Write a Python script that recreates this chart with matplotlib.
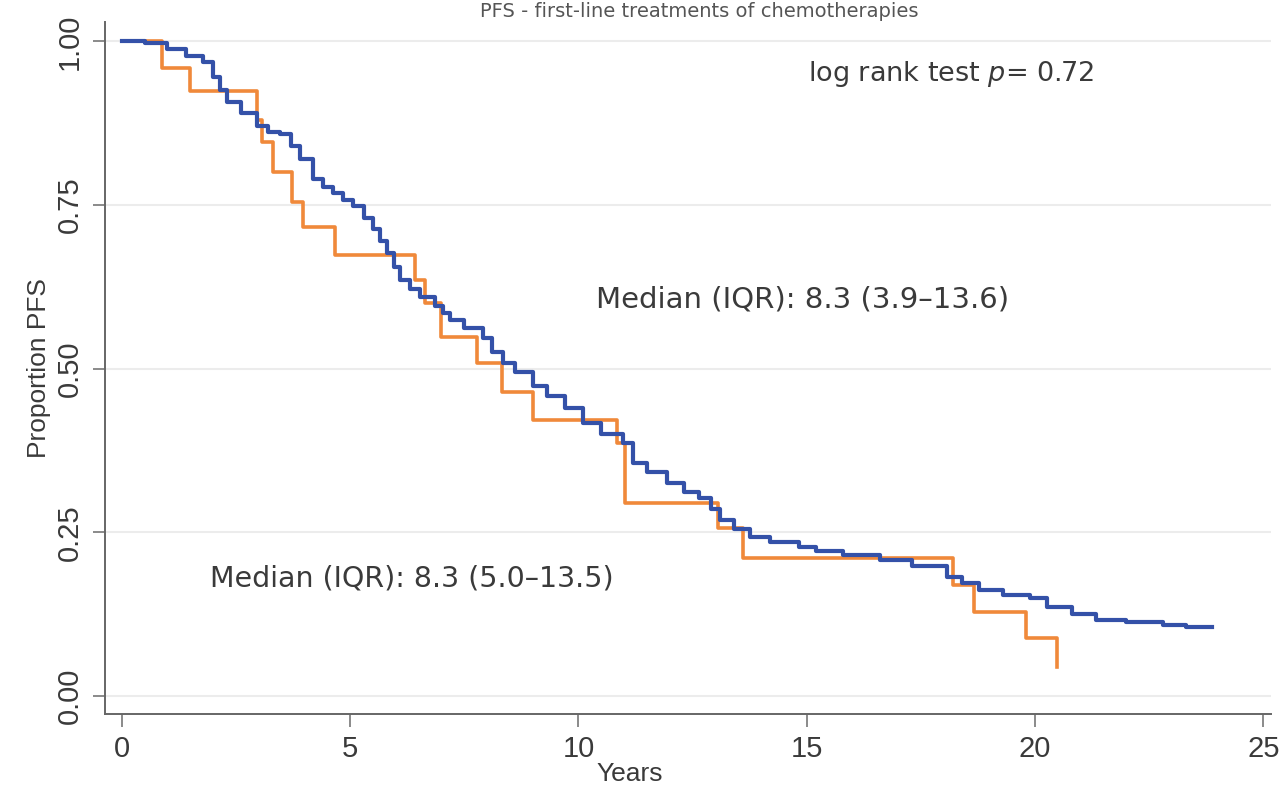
import matplotlib.pyplot as plt

# Kaplan-Meier estimates (time in years, proportion PFS)
blue_t = [0, 0.5, 0.98, 1.4, 1.77, 2.0, 2.15, 2.3, 2.6, 2.96, 3.2, 3.46, 3.7, 3.9,
          4.18, 4.4, 4.62, 4.85, 5.06, 5.3, 5.49, 5.65, 5.8, 5.95, 6.09, 6.3, 6.52,
          6.85, 7.03, 7.18, 7.5, 7.9, 8.1, 8.34, 8.6, 9.0, 9.3, 9.7, 10.09, 10.5,
          10.97, 11.19, 11.5, 11.93, 12.3, 12.65, 12.9, 13.09, 13.4, 13.75, 14.2,
          14.84, 15.2, 15.8, 16.6, 17.3, 18.06, 18.4, 18.78, 19.3, 19.88, 20.25,
          20.8, 21.34, 22.0, 22.79, 23.3, 23.88]
blue_s = [1.0, 0.997, 0.988, 0.978, 0.969, 0.945, 0.925, 0.907, 0.89, 0.87, 0.862,
          0.858, 0.84, 0.82, 0.789, 0.778, 0.769, 0.758, 0.748, 0.73, 0.713, 0.695,
          0.677, 0.655, 0.636, 0.622, 0.61, 0.595, 0.585, 0.575, 0.562, 0.547,
          0.525, 0.509, 0.495, 0.473, 0.458, 0.44, 0.417, 0.4, 0.387, 0.356, 0.342,
          0.326, 0.312, 0.303, 0.285, 0.269, 0.255, 0.243, 0.235, 0.228, 0.222,
          0.215, 0.208, 0.198, 0.182, 0.172, 0.162, 0.155, 0.15, 0.136, 0.125,
          0.116, 0.113, 0.109, 0.106, 0.105]

orange_t = [0, 0.88, 1.49, 2.96, 3.06, 3.31, 3.72, 3.97, 4.66, 6.41, 6.63, 7.0,
            7.77, 8.32, 9.0, 10.84, 11.01, 13.05, 13.6, 18.21, 18.67, 19.81, 20.49]
orange_s = [1.0, 0.96, 0.924, 0.88, 0.846, 0.801, 0.755, 0.716, 0.674, 0.636, 0.6,
            0.549, 0.509, 0.465, 0.422, 0.387, 0.295, 0.257, 0.211, 0.17, 0.128,
            0.089, 0.044]

x_ticks = [0, 5, 10, 15, 20, 25]
y_ticks = [0.0, 0.25, 0.5, 0.75, 1.0]
y_ticklabels = ["0.00", "0.25", "0.50", "0.75", "1.00"]

plt.rcParams["font.family"] = ["DejaVu Sans"]
narrow = ["Liberation Sans Narrow", "Liberation Sans", "DejaVu Sans"]
text_col = "#3a3a3a"

fig = plt.figure(figsize=(12.83, 7.93), dpi=100)
ax = fig.add_axes([0.0818, 0.0996, 0.909, 0.873])

for y in y_ticks:
    ax.axhline(y, color="#ececec", lw=1.5, zorder=0)

ax.step(orange_t, orange_s, where="post", color="#f0893a", lw=2.6, zorder=2)
ax.step(blue_t, blue_s, where="post", color="#3451a8", lw=3.0, zorder=3)

ax.set_xlim(-0.37, 25.17)
ax.set_ylim(-0.0275, 1.03)
ax.set_xticks(x_ticks)
ax.set_xticklabels([str(v) for v in x_ticks], family=narrow, fontsize=21, color=text_col)
ax.set_yticks(y_ticks)
ax.set_yticklabels(y_ticklabels, family=narrow, fontsize=21, color=text_col,
                   rotation=90, va="center")
ax.tick_params(direction="out", length=9, width=1.2, color="#777777", pad=6)

for side in ["top", "right"]:
    ax.spines[side].set_visible(False)
for side in ["left", "bottom"]:
    ax.spines[side].set_color("#666666")
    ax.spines[side].set_linewidth(1.4)

ax.set_ylabel("Proportion PFS", family=narrow, fontsize=19, color=text_col, labelpad=4)
ax.set_xlabel("Years", family=narrow, fontsize=19, color=text_col)
ax.xaxis.set_label_coords(0.45, -0.07)

ax.text(15.02, 0.95, r"log rank test $p$= 0.72", fontsize=19.5, color=text_col,
        va="center", ha="left")
ax.text(10.38, 0.605, "Median (IQR): 8.3 (3.9\u201313.6)", fontsize=21, color=text_col,
        va="center", ha="left")
ax.text(1.93, 0.18, "Median (IQR): 8.3 (5.0\u201313.5)", fontsize=20.5, color=text_col,
        va="center", ha="left")

# title squeezed into the thin strip above the plot
fig.text(0.545, 0.997, "PFS - first-line treatments of chemotherapies", fontsize=14,
         color="#555555", ha="center", va="top")

fig.savefig("out.png", dpi=100)
